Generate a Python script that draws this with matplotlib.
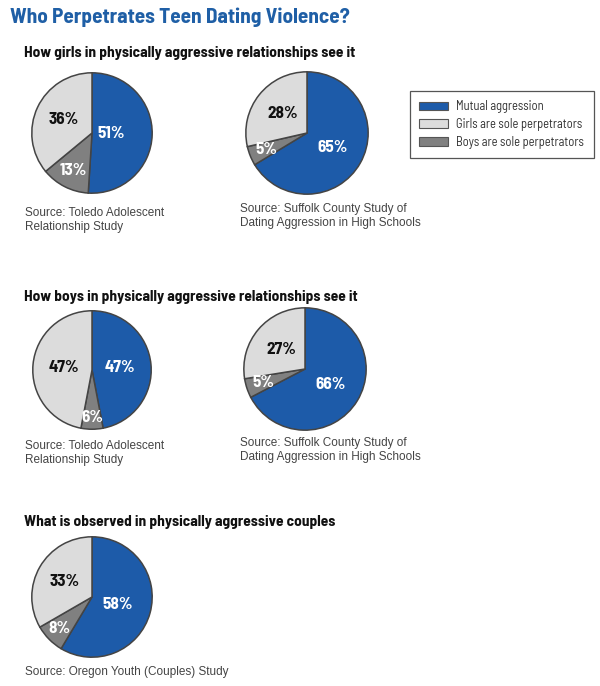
import matplotlib
matplotlib.use("Agg")
import matplotlib.pyplot as plt
from matplotlib.patches import Patch
import numpy as np

# ---- data ----
categories = ["Mutual aggression", "Girls are sole perpetrators", "Boys are sole perpetrators"]
pie_order = [0, 2, 1]  # clockwise from top: mutual, boys, girls
girls_toledo = [51, 36, 13]
girls_suffolk = [65, 28, 5]
boys_toledo = [47, 47, 6]
boys_suffolk = [66, 27, 5]
couples_oregon = [58, 33, 8]

title = "Who Perpetrates Teen Dating Violence?"
subtitles = ["How girls in physically aggressive relationships see it",
             "How boys in physically aggressive relationships see it",
             "What is observed in physically aggressive couples"]
src_toledo = "Source: Toledo Adolescent\nRelationship Study"
src_suffolk = "Source: Suffolk County Study of\nDating Aggression in High Schools"
src_oregon = "Source: Oregon Youth (Couples) Study"

# ---- style ----
W, H = 600, 686
BLUE = "#1D5BA9"
LIGHT = "#DCDCDC"
DARK = "#808080"
EDGE = "#444444"
colors = [BLUE, LIGHT, DARK]
txtcol = ["white", "#111111", "white"]
NARROW = ["Barlow Semi Condensed", "DejaVu Sans"]
REG = ["Liberation Sans", "DejaVu Sans"]

fig = plt.figure(figsize=(W / 100, H / 100), dpi=100)
fig.patch.set_facecolor("white")


def fx(x):
    return x / W


def fy(y):
    return 1 - y / H


def draw_pie(values, cx, cy, r, label_r):
    ax = fig.add_axes([fx(cx - r - 2), fy(cy + r + 2), (2 * r + 4) / W, (2 * r + 4) / H])
    ax.set_aspect("equal")
    vals = [values[i] for i in pie_order]
    cols = [colors[i] for i in pie_order]
    wedges, _ = ax.pie(vals, colors=cols, startangle=90, counterclock=False,
                       radius=1.0,
                       wedgeprops=dict(edgecolor=EDGE, linewidth=1.1))
    for w, idx in zip(wedges, pie_order):
        mid = np.deg2rad((w.theta1 + w.theta2) / 2)
        d = label_r[idx]
        ax.text(d * np.cos(mid), d * np.sin(mid), f"{values[idx]}%",
                ha="center", va="center", fontsize=12.3, fontweight="bold",
                color=txtcol[idx], family=NARROW)
    ax.set_xlim(-1.03, 1.03)
    ax.set_ylim(-1.03, 1.03)
    ax.axis("off")
    return ax


# title & subtitles
fig.text(fx(10), fy(17), title, fontsize=15.3, fontweight="bold", color="#1F5FA6",
         family=NARROW, va="center", ha="left")
for y, s in zip([53, 297, 522], subtitles):
    fig.text(fx(24), fy(y), s, fontsize=11.1, fontweight="bold", color="#111111",
             family=NARROW, va="center", ha="left")

# pies (label radial distances: mutual, girls, boys)
draw_pie(girls_toledo, 92, 133, 60, [0.32, 0.52, 0.70])
draw_pie(girls_suffolk, 307, 133, 61, [0.48, 0.50, 0.72])
draw_pie(boys_toledo, 92, 370, 59, [0.47, 0.48, 0.80])
draw_pie(boys_suffolk, 305, 369, 61, [0.48, 0.50, 0.72])
draw_pie(couples_oregon, 92, 597, 60, [0.45, 0.52, 0.75])

# sources
for (x, y, s) in [(25, 220, src_toledo), (240, 216, src_suffolk),
                  (25, 453, src_toledo), (240, 450, src_suffolk),
                  (25, 672, src_oregon)]:
    fig.text(fx(x), fy(y), s, fontsize=8.5, color="#444444", family=REG,
             va="center", ha="left", linespacing=1.25)

# legend
handles = [Patch(facecolor=colors[i], edgecolor="#555555", linewidth=0.8, label=categories[i])
           for i in range(3)]
leg = fig.legend(handles=handles, loc="upper left",
                 bbox_to_anchor=(fx(410), fy(91)), frameon=True, fancybox=False,
                 edgecolor="#555555", framealpha=1,
                 prop=dict(family=NARROW, size=9.0),
                 handlelength=2.3, handleheight=0.7, handletextpad=0.65,
                 labelspacing=0.38, borderpad=0.75, borderaxespad=0)
leg.get_frame().set_linewidth(0.9)
for t in leg.get_texts():
    t.set_color("#333333")

fig.savefig("out.png", dpi=100, facecolor="white")
